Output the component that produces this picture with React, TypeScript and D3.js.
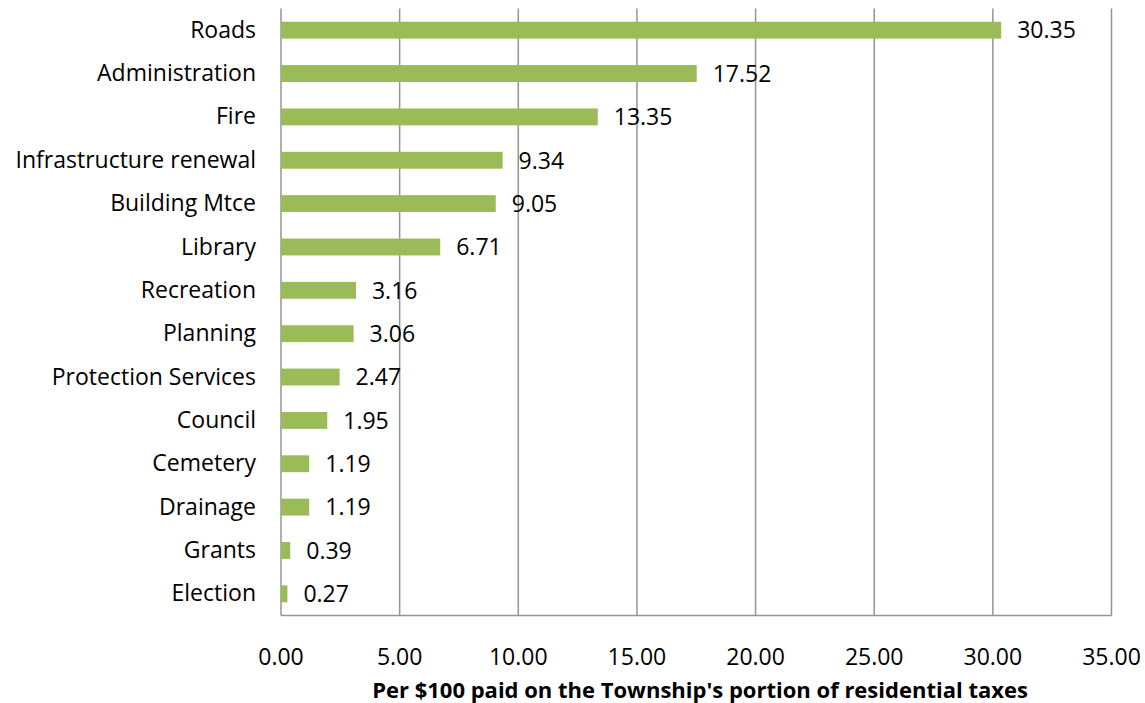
import React from "react";
import * as d3 from "d3";

const categories = [
  "Roads",
  "Administration",
  "Fire",
  "Infrastructure renewal",
  "Building Mtce",
  "Library",
  "Recreation",
  "Planning ",
  "Protection Services",
  "Council",
  "Cemetery",
  "Drainage",
  "Grants",
  "Election",
];
const values = [30.35, 17.52, 13.35, 9.34, 9.05, 6.71, 3.16, 3.06, 2.47, 1.95, 1.19, 1.19, 0.39, 0.27];
const xTicks = [0, 5, 10, 15, 20, 25, 30, 35];
const axisTitle = "Per $100 paid on the Township's portion of residential taxes";

const W = 1145;
const H = 703;
const left = 281;
const right = 1111.5;
const top = 8.5;
const bottom = 615.5;
const font = "'Open Sans', sans-serif";
const fs = 23;

export default function App() {
  const x = d3.scaleLinear().domain([0, 35]).range([left, right]);
  const y = d3
    .scaleBand<string>()
    .domain(categories)
    .range([top, bottom])
    .paddingInner(0.61)
    .paddingOuter(0.305);
  const grid = "#949494";
  return (
    <svg
      width={W}
      height={H}
      style={{ position: "absolute", left: 0, top: 0, background: "#fff" }}
      fontFamily={font}
    >
      {xTicks.map((t) => (
        <line key={t} x1={x(t)} x2={x(t)} y1={top} y2={bottom} stroke={grid} strokeWidth={1.5} />
      ))}
      <line x1={left} x2={right} y1={bottom} y2={bottom} stroke={grid} strokeWidth={1.5} />
      {categories.map((c, i) => {
        const yy = y(c)!;
        const bh = y.bandwidth();
        return (
          <g key={c}>
            <rect x={x(0)} y={yy} width={x(values[i]) - x(0)} height={bh} fill="#9bbb59" />
            <text x={x(values[i]) + 16} y={yy + bh / 2} dy="0.36em" fontSize={fs} fill="#000">
              {values[i].toFixed(2)}
            </text>
            <text x={256} y={yy + bh / 2} dy="0.33em" textAnchor="end" fontSize={fs} fill="#000">
              {c}
            </text>
          </g>
        );
      })}
      {xTicks.map((t) => (
        <text key={t} x={x(t)} y={657} dy="0.36em" textAnchor="middle" fontSize={fs} fill="#000">
          {t.toFixed(2)}
        </text>
      ))}
      <text x={700} y={690} dy="0.36em" textAnchor="middle" fontSize={22} fontWeight="bold" fill="#000">
        {axisTitle}
      </text>
    </svg>
  );
}
